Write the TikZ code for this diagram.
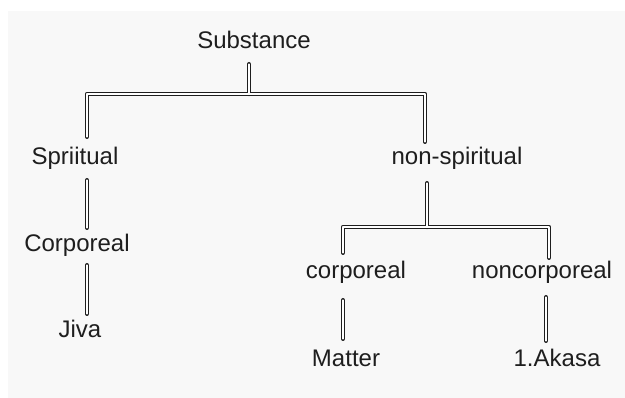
\documentclass[tikz,border=0pt]{standalone}
\usepackage{fontspec}
\setmainfont{Liberation Sans}
\definecolor{bggray}{RGB}{248,248,248}
\definecolor{txtgray}{RGB}{30,30,30}
\tikzset{
  lbl/.style={inner sep=0pt, anchor=base, text height=17pt, text depth=5pt,
              text=txtgray, font=\fontsize{24}{28}\selectfont},
  dbl/.style={draw=txtgray, double=white, double distance=1.6pt, line width=1.4pt,
              line cap=round, line join=round}
}

\begin{document}
\begin{tikzpicture}[x=1pt,y=-1pt]
                \useasboundingbox (0,0) rectangle (625,398);
                \fill[bggray] (8,11) rectangle (625,398);
                \node[lbl] (sub) at (254,49) {Substance};
                \node[lbl] (spi) at (75,165) {Spriitual};
                \node[lbl] (nsp) at (457,165) {non-spiritual};
                \node[lbl] (cor) at (77,252) {Corporeal};
                \node[lbl] (jiva) at (80,338) {Jiva};
                \node[lbl] (corp) at (356,279) {corporeal};
                \node[lbl] (ncorp) at (542,279) {noncorporeal};
                \node[lbl] (mat) at (346,367) {Matter};
                \node[lbl] (aka) at (557,367) {1.Akasa};
                \coordinate (j1) at (249,94);
                \coordinate (b1l) at (87,94);
                \coordinate (b1r) at (425,94);
                \coordinate (j2) at (427,227);
                \coordinate (b2l) at (343,227);
                \coordinate (b2r) at (549,227);
                \coordinate (b2m) at (546,227);
                \draw[dbl] ([yshift=-10pt]sub.south -| j1) -- (j1)
                    ([yshift=11pt]spi.north -| b1l) -- (b1l) -- (b1r) -- ([yshift=6pt]nsp.north -| b1r);
                \draw[dbl] ([yshift=-10pt]spi.south -| b1l) -- ([yshift=7pt]cor.north -| b1l);
                \draw[dbl] ([yshift=-8pt]cor.south -| b1l) -- ([yshift=7pt]jiva.north -| b1l);
                \draw[dbl] ([yshift=-13pt]nsp.south -| j2) -- (j2)
                    ([yshift=9pt]corp.north -| b2l) -- (b2l) -- (b2r) -- ([yshift=4pt]ncorp.north -| b2r);
                \draw[dbl] ([yshift=-16pt]corp.south -| b2l) -- ([yshift=11pt]mat.north -| b2l);
                \draw[dbl] ([yshift=-13pt]ncorp.south -| b2m) -- ([yshift=9pt]aka.north -| b2m);
\end{tikzpicture}
\end{document}
